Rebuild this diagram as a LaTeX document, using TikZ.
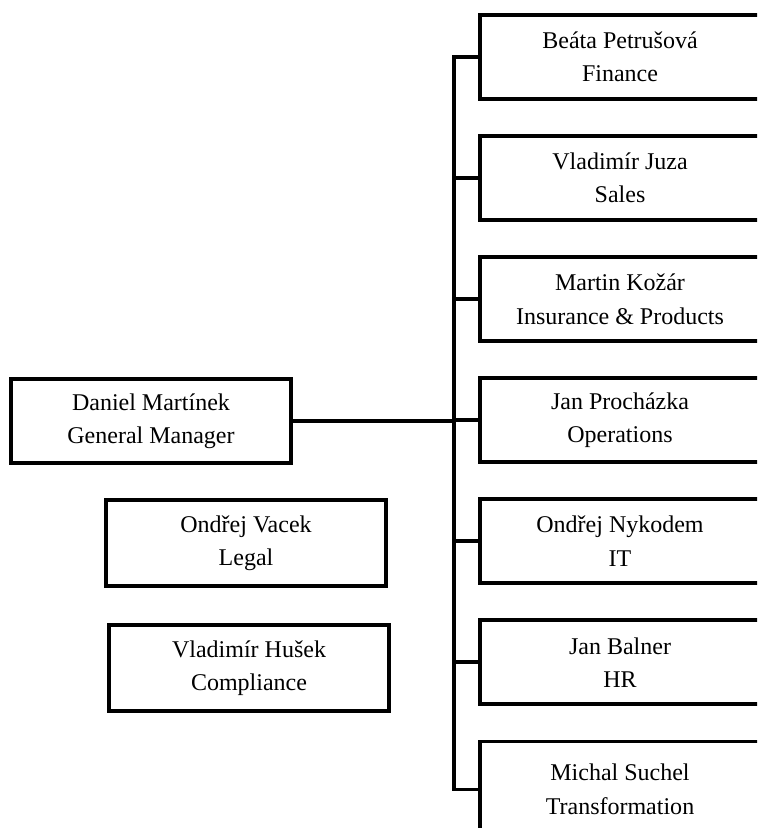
\documentclass[tikz,border=0pt]{standalone}
\usepackage{fontspec}
\setmainfont{Liberation Serif}
\usepackage{tikz}
\usetikzlibrary{positioning}
\usetikzlibrary{calc}

\begin{document}
\begin{tikzpicture}[x=0.75pt, y=-0.75pt,
    every node/.style={font=\fontsize{18}{25}\selectfont},
    person/.style={draw, line width=2.8pt, align=center, minimum width=210pt, minimum height=63pt, inner sep=0pt},
    link/.style={line width=2.8pt}]
    \useasboundingbox (0,0) rectangle (757,828);
    \clip (0,0) rectangle (757,828);

    % the general manager and the staff boxes on the left
    \node[person] (gm) at (151, 421) {Daniel Martínek\\General Manager};
    \node[person, minimum height=65pt] (legal) at (246, 543) {Ondřej Vacek\\Legal};
    \node[person, minimum height=65pt] (compl) at (249, 668) {Vladimír Hušek\\Compliance};

    % the column of departments on the right
    \node[person] (fin) at (620, 57) {Beáta Petrušová\\Finance};
    \node[person, below=25pt of fin] (sales) {Vladimír Juza\\Sales};
    \node[person, below=25pt of sales] (ins) {Martin Kožár\\Insurance \& Products};
    \node[person, below=25pt of ins] (ops) {Jan Procházka\\Operations};
    \node[person, below=25pt of ops] (it) {Ondřej Nykodem\\IT};
    \node[person, below=25pt of it] (hr) {Jan Balner\\HR};
    \node[person, below=25pt of hr, minimum height=72pt] (trans) {Michal Suchel\\Transformation};

    % the lines
    \coordinate (spine) at (454, 0);
    \draw[link] (fin.west) -- (fin.west -| spine) -- (trans.west -| spine) -- (trans.west);
    \foreach \dept in {sales, ins, ops, it, hr}
        \draw[link] (\dept.west) -- (\dept.west -| spine);
    \draw[link] (gm.east) -- (gm.east -| spine);
\end{tikzpicture}
\end{document}
